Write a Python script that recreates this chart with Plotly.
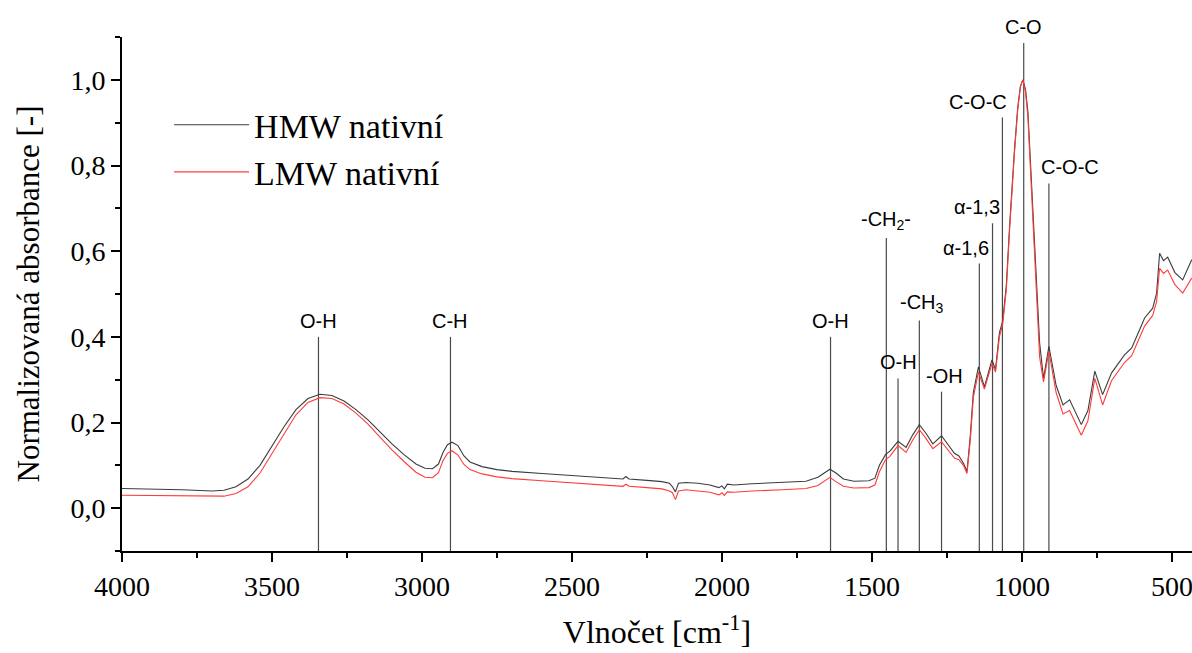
import plotly.graph_objects as go

# --- data ---
wavenumber = [4000, 3900, 3800, 3700, 3660, 3620, 3580, 3540, 3500, 3460, 3420, 3380, 3340, 3300,
              3260, 3220, 3180, 3140, 3100, 3060, 3020, 2990, 2965, 2945, 2930, 2915, 2900, 2880,
              2860, 2840, 2800, 2750, 2700, 2600, 2500, 2400, 2330, 2320, 2310, 2250, 2200, 2175,
              2165, 2155, 2145, 2120, 2080, 2040, 2010, 2000, 1992, 1982, 1960, 1900, 1800, 1720,
              1680, 1655, 1640, 1620, 1595, 1560, 1510, 1490, 1475, 1455, 1440, 1413, 1386, 1365,
              1342, 1320, 1297, 1268, 1245, 1225, 1210, 1195, 1183, 1172, 1162, 1145, 1125, 1100,
              1088, 1075, 1064, 1052, 1041, 1035, 1025, 1014, 1005, 997, 988, 980, 970, 958, 941,
              928, 910, 886, 863, 841, 802, 780, 757, 731, 701, 658, 634, 608, 591, 564, 551, 541,
              528, 514, 490, 464, 434]

hmw = [0.046, 0.045, 0.043, 0.040, 0.042, 0.050, 0.068, 0.100, 0.145, 0.190, 0.230, 0.256, 0.266, 0.263,
       0.250, 0.230, 0.206, 0.178, 0.150, 0.125, 0.103, 0.093, 0.092, 0.103, 0.130, 0.148, 0.154, 0.146,
       0.122, 0.108, 0.097, 0.090, 0.086, 0.081, 0.076, 0.070, 0.068, 0.074, 0.068, 0.065, 0.062, 0.058,
       0.050, 0.038, 0.058, 0.060, 0.058, 0.054, 0.048, 0.052, 0.045, 0.056, 0.054, 0.057, 0.060, 0.063,
       0.072, 0.085, 0.091, 0.082, 0.068, 0.063, 0.064, 0.070, 0.100, 0.125, 0.133, 0.156, 0.142, 0.170,
       0.195, 0.175, 0.150, 0.169, 0.148, 0.128, 0.122, 0.105, 0.086, 0.170, 0.270, 0.330, 0.283, 0.346,
       0.324, 0.410, 0.437, 0.520, 0.660, 0.728, 0.835, 0.935, 0.985, 1.000, 0.978, 0.925, 0.790, 0.600,
       0.386, 0.303, 0.378, 0.287, 0.241, 0.253, 0.195, 0.228, 0.320, 0.265, 0.316, 0.358, 0.374, 0.416,
       0.444, 0.467, 0.502, 0.595, 0.578, 0.586, 0.550, 0.533, 0.580]

lmw = [0.030, 0.029, 0.028, 0.027, 0.028, 0.034, 0.050, 0.082, 0.128, 0.175, 0.218, 0.247, 0.258, 0.256,
       0.243, 0.222, 0.196, 0.166, 0.136, 0.109, 0.084, 0.072, 0.071, 0.083, 0.111, 0.128, 0.134, 0.124,
       0.102, 0.090, 0.080, 0.073, 0.069, 0.064, 0.059, 0.053, 0.051, 0.056, 0.051, 0.048, 0.045, 0.040,
       0.036, 0.020, 0.040, 0.043, 0.040, 0.037, 0.031, 0.036, 0.030, 0.038, 0.037, 0.040, 0.043, 0.046,
       0.053, 0.066, 0.072, 0.062, 0.051, 0.047, 0.048, 0.054, 0.085, 0.113, 0.121, 0.146, 0.130, 0.158,
       0.183, 0.163, 0.139, 0.155, 0.134, 0.117, 0.113, 0.100, 0.081, 0.160, 0.258, 0.318, 0.278, 0.337,
       0.318, 0.400, 0.430, 0.510, 0.650, 0.720, 0.828, 0.930, 0.984, 1.000, 0.972, 0.912, 0.772, 0.580,
       0.353, 0.295, 0.366, 0.270, 0.220, 0.228, 0.170, 0.204, 0.303, 0.241, 0.298, 0.340, 0.356, 0.398,
       0.425, 0.450, 0.482, 0.560, 0.548, 0.556, 0.522, 0.502, 0.537]

band_pos = [3345, 2905, 1638, 1452, 1413, 1342, 1268, 1142, 1098, 1065, 994, 910]
band_top = [0.40, 0.40, 0.40, 0.631, 0.303, 0.438, 0.272, 0.571, 0.665, 0.912, 1.086, 0.758]
band_label = ["O-H", "C-H", "O-H", "-CH<sub>2</sub>-", "O-H", "-CH<sub>3</sub>", "-OH",
              "α-1,6", "α-1,3", "C-O-C", "C-O", "C-O-C"]

series_names = ["HMW nativní", "LMW nativní"]

# --- styling ---
label_xshift = {"α-1,6": -13, "α-1,3": -16, "C-O-C@1065": -24, "C-O-C@910": 21,
                "-OH": 3, "-CH<sub>3</sub>": 3}

fig = go.Figure()

# band marker lines
lx, ly = [], []
for p, t in zip(band_pos, band_top):
    lx += [p, p, None]
    ly += [-0.1, t, None]
fig.add_trace(go.Scatter(x=lx, y=ly, mode="lines", line=dict(color="#4a4a4a", width=1.2),
                         showlegend=False, hoverinfo="skip"))

fig.add_trace(go.Scatter(x=wavenumber, y=hmw, mode="lines", name=series_names[0],
                         line=dict(color="#3c3c3c", width=1.1)))
fig.add_trace(go.Scatter(x=wavenumber, y=lmw, mode="lines", name=series_names[1],
                         line=dict(color="#ff3b3b", width=1.1)))

for p, t, lab in zip(band_pos, band_top, band_label):
    key = lab if lab != "C-O-C" else f"C-O-C@{p}"
    fig.add_annotation(x=p, y=t, xref="x", yref="y", text=lab, showarrow=False,
                       yanchor="bottom", yshift=3, xshift=label_xshift.get(key, 0),
                       font=dict(family="Liberation Sans, Arial", size=20, color="black"))

serif = "Liberation Serif, Times New Roman, serif"
fig.update_layout(
    width=1192, height=653,
    margin=dict(l=122, r=0, t=37, b=102),
    paper_bgcolor="white", plot_bgcolor="white",
    separators=",.",
    showlegend=True,
    legend=dict(x=0.044, y=0.885, xanchor="left", yanchor="top",
                font=dict(family=serif, size=34, color="black"),
                bgcolor="rgba(0,0,0,0)", itemwidth=75, tracegroupgap=0),
    xaxis=dict(range=[4000, 433], showgrid=False, zeroline=False,
               showline=True, linecolor="black", linewidth=2,
               ticks="outside", ticklen=9, tickwidth=2, tickcolor="black",
               tick0=0, dtick=500, ticklabeloverflow="allow",
               minor=dict(ticks="outside", ticklen=5, tickwidth=1.5, tickcolor="black", dtick=250),
               tickfont=dict(family=serif, size=28, color="black"),
               title=dict(text="Vlnočet [cm<sup>-1</sup>]", standoff=20,
                          font=dict(family=serif, size=32, color="black"))),
    yaxis=dict(range=[-0.1, 1.1], showgrid=False, zeroline=False,
               showline=True, linecolor="black", linewidth=2,
               ticks="outside", ticklen=9, tickwidth=2, tickcolor="black",
               tick0=0, dtick=0.2, tickformat=".1f",
               minor=dict(ticks="outside", ticklen=5, tickwidth=1.5, tickcolor="black", dtick=0.1),
               tickfont=dict(family=serif, size=28, color="black"),
               title=dict(text="Normalizovaná absorbance [-]", standoff=22,
                          font=dict(family=serif, size=31, color="black"))),
)

fig.write_html("out.html")
